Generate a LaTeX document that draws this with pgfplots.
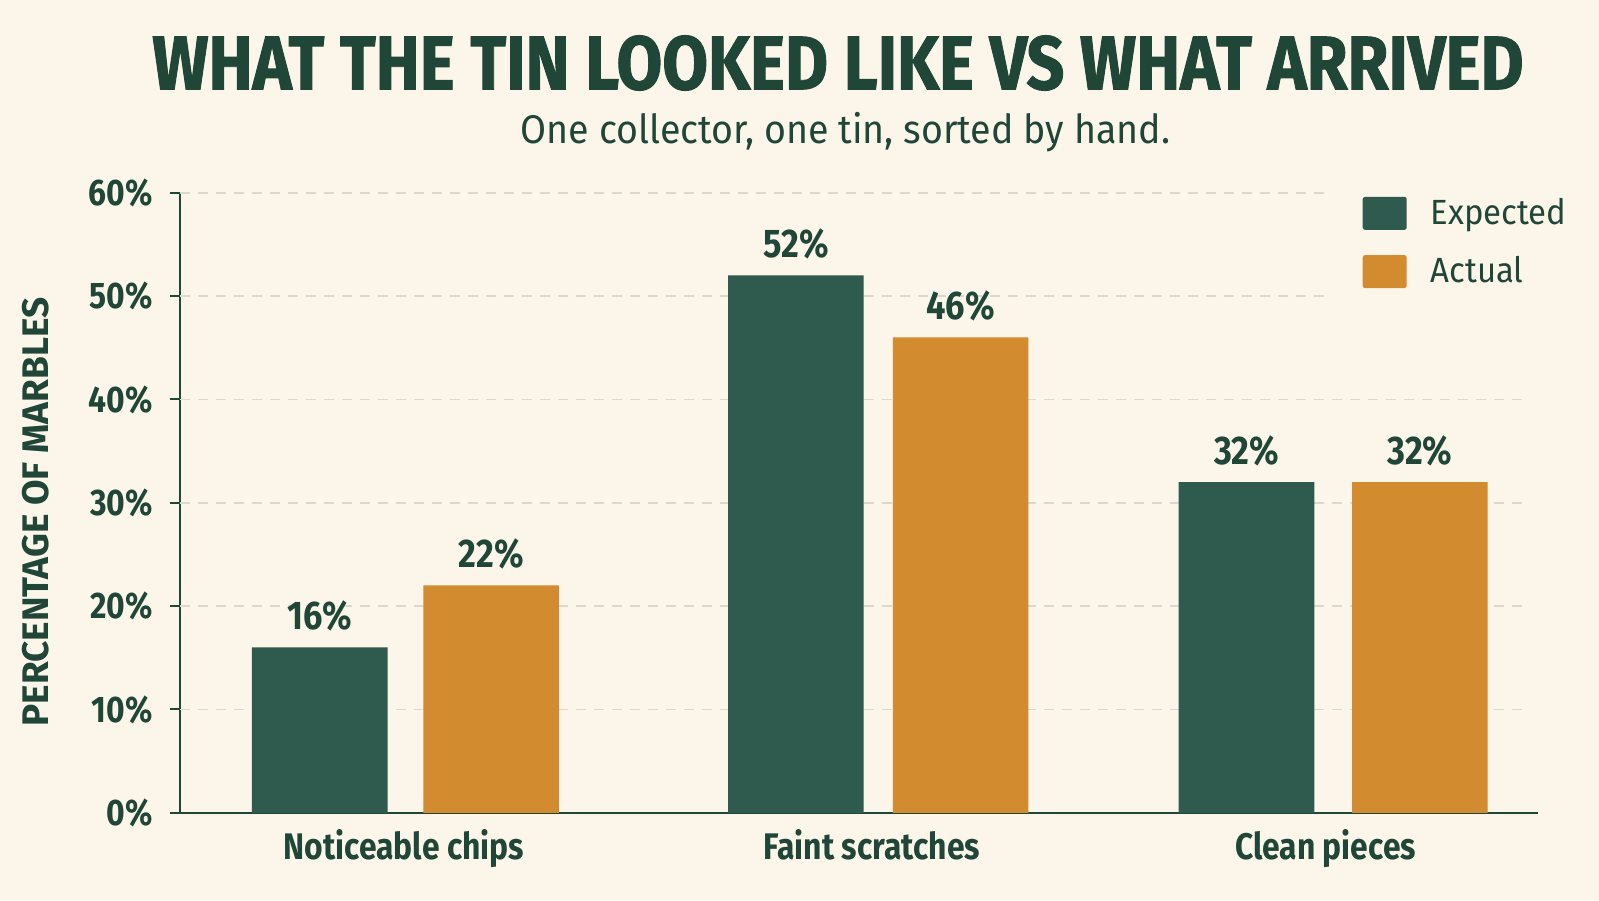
\documentclass[border=0pt]{standalone}
\usepackage{fontspec}
\usepackage{pgfplots}
\pgfplotsset{compat=1.18}
\setmainfont{Fira Sans}
\newfontfamily\titlefont[FakeStretch=0.872, FakeBold=1.2]{Fira Sans}
\newfontfamily\condbold[FakeStretch=0.86]{Fira Sans}
\newfontfamily\subfont[FakeStretch=0.94]{Fira Sans}

\definecolor{bg}{HTML}{FBF5EA}
\definecolor{expc}{HTML}{2E5B4D}
\definecolor{actc}{HTML}{D38B2F}
\definecolor{ink}{HTML}{1F4636}
\definecolor{gridc}{HTML}{DDD8CF}
\tikzset{guide/.style={gridc, dash pattern=on 5pt off 4pt, line width=0.7pt}}

\begin{document}
\begin{tikzpicture}
\fill[bg] (0,0) rectangle (799.5pt,450pt);

\node[text=ink, font=\titlefont\bfseries\fontsize{38}{40}\selectfont] at (419pt,418.5pt)
  {WHAT THE TIN LOOKED LIKE VS WHAT ARRIVED};
\node[text=ink, font=\subfont\fontsize{20}{22}\selectfont] at (422.8pt,384pt)
  {One collector, one tin, sorted by hand.};
\node[text=ink, rotate=90, font=\bfseries\fontsize{18.5}{20}\selectfont] at (17.9pt,194pt)
  {PERCENTAGE OF MARBLES};

\begin{axis}[
    at={(89.8pt,43.6pt)}, anchor=south west,
    scale only axis,
    width=679pt, height=310pt,
    xmin=176, xmax=1508,
    ymin=0, ymax=60,
    axis lines=left,
    axis line style={ink, line width=1pt, -},
    ybar, bar width=133, bar shift=0pt,
    xtick={396,855,1300},
    xticklabels={Noticeable chips, Faint scratches, Clean pieces},
    ytick={0,10,...,60},
    yticklabels={0\%,10\%,20\%,30\%,40\%,50\%,60\%},
    x tick style={draw=none},
    y tick style={ink, line width=1pt},
    major tick length=5pt,
    tick align=outside,
    ticklabel style={text=ink, font=\condbold\bfseries\fontsize{18.5}{20}\selectfont},
    yticklabel style={xshift=-5pt},
    /pgf/number format/assume math mode=true,
    nodes near coords={\pgfmathprintnumber{\pgfplotspointmeta}\%},
    every node near coord/.append style={text=ink, inner sep=0pt, yshift=8pt,
        font=\condbold\bfseries\fontsize{20}{22}\selectfont},
    legend style={at={(0.8665,1.008)}, anchor=north west, draw=none, fill=none,
        text=ink, font=\subfont\fontsize{17.5}{20}\selectfont,
        row sep=10.5pt, inner sep=3pt, cells={anchor=west}},
    legend image code/.code={
        \fill[#1, rounded corners=1.2pt] (0pt,-8.5pt) rectangle (22pt,8pt);
    },
    legend cell align=left,
]
% dashed guide lines, stopping short of the legend
\draw[guide] (axis cs:176,10) -- (axis cs:1495,10);
\draw[guide] (axis cs:176,20) -- (axis cs:1495,20);
\draw[guide] (axis cs:176,30) -- (axis cs:1495,30);
\draw[guide] (axis cs:176,40) -- (axis cs:1495,40);
\draw[guide] (axis cs:176,50) -- (axis cs:1305,50);
\draw[guide] (axis cs:176,60) -- (axis cs:1305,60);

\addplot[fill=expc, draw=none] coordinates {(313.5,16) (780.5,52) (1222.5,32)};
\addlegendentry{\hspace{10pt}Expected}
\addplot[fill=actc, draw=none] coordinates {(481.5,22) (942,46) (1392.5,32)};
\addlegendentry{\hspace{10pt}Actual}
\end{axis}

\pgfresetboundingbox
\path (0,0) rectangle (799.5pt,450pt);
\end{tikzpicture}
\end{document}
